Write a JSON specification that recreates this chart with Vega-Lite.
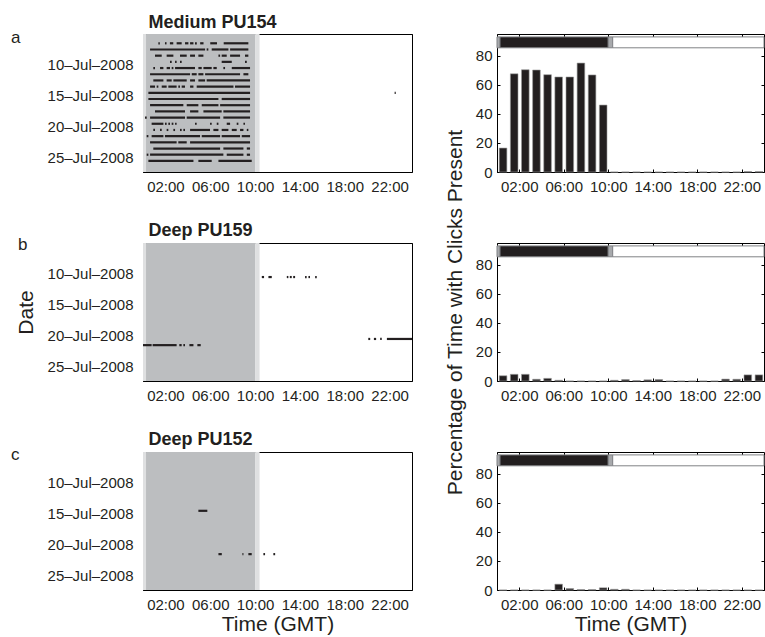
{
  "$schema": "https://vega.github.io/schema/vega-lite/v6.json",
  "background": "white",
  "padding": {"left": 10, "top": 12, "right": 0, "bottom": 0},
  "config": {
    "font": "Liberation Sans",
    "view": {"stroke": "black", "strokeWidth": 1},
    "axis": {"labelFont": "Liberation Sans", "labelFontSize": 15, "labelColor": "#231f20", "titleFont": "Liberation Sans", "titleFontSize": 21, "titleFontWeight": "normal", "titleColor": "#231f20", "domainColor": "black", "tickColor": "black", "grid": false, "zindex": 1},
    "title": {"font": "Liberation Sans", "color": "#231f20"}
  },
  "datasets": {
    "light": [
      {"start": 0, "end": 0.27, "phase": "twilight"},
      {"start": 0.27, "end": 10, "phase": "night"},
      {"start": 10, "end": 10.4, "phase": "twilight"},
      {"start": 10.4, "end": 24, "phase": "day"}
    ],
    "clicksA": [
      {"date": "2008-07-06", "start": 1.37, "end": 1.5}, {"date": "2008-07-06", "start": 1.96, "end": 2.1}, {"date": "2008-07-06", "start": 2.4, "end": 2.7}, {"date": "2008-07-06", "start": 3.0, "end": 3.45}, {"date": "2008-07-06", "start": 3.75, "end": 4.05}, {"date": "2008-07-06", "start": 4.2, "end": 4.5}, {"date": "2008-07-06", "start": 4.64, "end": 4.8}, {"date": "2008-07-06", "start": 5.1, "end": 5.4}, {"date": "2008-07-06", "start": 6.0, "end": 6.6}, {"date": "2008-07-06", "start": 7.2, "end": 9.4},
      {"date": "2008-07-07", "start": 0.63, "end": 5.54}, {"date": "2008-07-07", "start": 5.68, "end": 5.83}, {"date": "2008-07-07", "start": 6.13, "end": 7.62}, {"date": "2008-07-07", "start": 7.77, "end": 9.4},
      {"date": "2008-07-08", "start": 1.07, "end": 1.67}, {"date": "2008-07-08", "start": 2.11, "end": 2.71}, {"date": "2008-07-08", "start": 3.3, "end": 3.9}, {"date": "2008-07-08", "start": 4.2, "end": 4.64}, {"date": "2008-07-08", "start": 4.94, "end": 5.39}, {"date": "2008-07-08", "start": 6.73, "end": 6.88}, {"date": "2008-07-08", "start": 7.02, "end": 7.47}, {"date": "2008-07-08", "start": 7.77, "end": 8.66}, {"date": "2008-07-08", "start": 9.1, "end": 9.4},
      {"date": "2008-07-09", "start": 2.41, "end": 2.56}, {"date": "2008-07-09", "start": 2.86, "end": 3.0}, {"date": "2008-07-09", "start": 3.3, "end": 3.45}, {"date": "2008-07-09", "start": 7.02, "end": 7.92}, {"date": "2008-07-09", "start": 9.1, "end": 9.26},
      {"date": "2008-07-10", "start": 0.92, "end": 1.07}, {"date": "2008-07-10", "start": 1.52, "end": 1.82}, {"date": "2008-07-10", "start": 2.11, "end": 2.41}, {"date": "2008-07-10", "start": 2.56, "end": 2.71}, {"date": "2008-07-10", "start": 2.86, "end": 4.64}, {"date": "2008-07-10", "start": 4.94, "end": 5.24}, {"date": "2008-07-10", "start": 5.39, "end": 6.13}, {"date": "2008-07-10", "start": 6.28, "end": 6.58}, {"date": "2008-07-10", "start": 7.17, "end": 7.32}, {"date": "2008-07-10", "start": 7.92, "end": 9.55},
      {"date": "2008-07-11", "start": 0.63, "end": 4.2}, {"date": "2008-07-11", "start": 4.35, "end": 4.79}, {"date": "2008-07-11", "start": 4.94, "end": 5.39}, {"date": "2008-07-11", "start": 5.54, "end": 8.66}, {"date": "2008-07-11", "start": 8.96, "end": 9.4},
      {"date": "2008-07-12", "start": 0.92, "end": 1.82}, {"date": "2008-07-12", "start": 2.11, "end": 2.56}, {"date": "2008-07-12", "start": 2.71, "end": 3.9}, {"date": "2008-07-12", "start": 4.2, "end": 4.64}, {"date": "2008-07-12", "start": 4.94, "end": 5.54}, {"date": "2008-07-12", "start": 5.68, "end": 9.55},
      {"date": "2008-07-13", "start": 0.63, "end": 1.07}, {"date": "2008-07-13", "start": 1.22, "end": 1.37}, {"date": "2008-07-13", "start": 1.67, "end": 2.11}, {"date": "2008-07-13", "start": 2.26, "end": 3.0}, {"date": "2008-07-13", "start": 3.15, "end": 3.3}, {"date": "2008-07-13", "start": 3.45, "end": 3.75}, {"date": "2008-07-13", "start": 4.2, "end": 4.5}, {"date": "2008-07-13", "start": 4.79, "end": 8.07}, {"date": "2008-07-13", "start": 8.21, "end": 9.55},
      {"date": "2008-07-14", "start": 0.48, "end": 9.55}, {"date": "2008-07-14", "start": 22.45, "end": 22.55},
      {"date": "2008-07-15", "start": 0.48, "end": 6.73}, {"date": "2008-07-15", "start": 7.02, "end": 9.55},
      {"date": "2008-07-16", "start": 0.63, "end": 3.6}, {"date": "2008-07-16", "start": 3.9, "end": 4.94}, {"date": "2008-07-16", "start": 5.24, "end": 6.73}, {"date": "2008-07-16", "start": 6.88, "end": 9.55},
      {"date": "2008-07-17", "start": 1.07, "end": 3.75}, {"date": "2008-07-17", "start": 4.2, "end": 4.94}, {"date": "2008-07-17", "start": 5.39, "end": 7.02}, {"date": "2008-07-17", "start": 7.17, "end": 9.55},
      {"date": "2008-07-18", "start": 0.18, "end": 0.33}, {"date": "2008-07-18", "start": 0.63, "end": 3.75}, {"date": "2008-07-18", "start": 3.9, "end": 6.88}, {"date": "2008-07-18", "start": 7.17, "end": 9.55},
      {"date": "2008-07-19", "start": 0.77, "end": 1.82}, {"date": "2008-07-19", "start": 1.96, "end": 2.11}, {"date": "2008-07-19", "start": 2.26, "end": 2.41}, {"date": "2008-07-19", "start": 2.56, "end": 2.71}, {"date": "2008-07-19", "start": 2.86, "end": 3.0}, {"date": "2008-07-19", "start": 4.64, "end": 4.79}, {"date": "2008-07-19", "start": 5.98, "end": 6.13}, {"date": "2008-07-19", "start": 6.58, "end": 6.73}, {"date": "2008-07-19", "start": 7.47, "end": 7.77}, {"date": "2008-07-19", "start": 8.36, "end": 8.51}, {"date": "2008-07-19", "start": 8.96, "end": 9.1},
      {"date": "2008-07-20", "start": 0.92, "end": 1.07}, {"date": "2008-07-20", "start": 1.52, "end": 1.67}, {"date": "2008-07-20", "start": 2.11, "end": 2.26}, {"date": "2008-07-20", "start": 2.71, "end": 2.86}, {"date": "2008-07-20", "start": 3.3, "end": 3.45}, {"date": "2008-07-20", "start": 3.6, "end": 3.75}, {"date": "2008-07-20", "start": 4.2, "end": 5.98}, {"date": "2008-07-20", "start": 6.28, "end": 6.73}, {"date": "2008-07-20", "start": 7.02, "end": 7.62}, {"date": "2008-07-20", "start": 7.92, "end": 8.36}, {"date": "2008-07-20", "start": 8.66, "end": 8.96}, {"date": "2008-07-20", "start": 9.26, "end": 9.4},
      {"date": "2008-07-21", "start": 0.33, "end": 0.48}, {"date": "2008-07-21", "start": 0.77, "end": 1.82}, {"date": "2008-07-21", "start": 1.96, "end": 5.09}, {"date": "2008-07-21", "start": 5.24, "end": 6.88}, {"date": "2008-07-21", "start": 7.02, "end": 8.66}, {"date": "2008-07-21", "start": 8.81, "end": 9.55},
      {"date": "2008-07-22", "start": 0.63, "end": 3.0}, {"date": "2008-07-22", "start": 3.15, "end": 3.9}, {"date": "2008-07-22", "start": 4.2, "end": 9.55},
      {"date": "2008-07-23", "start": 0.92, "end": 6.88}, {"date": "2008-07-23", "start": 7.17, "end": 8.96}, {"date": "2008-07-23", "start": 9.26, "end": 9.55},
      {"date": "2008-07-24", "start": 0.33, "end": 0.48}, {"date": "2008-07-24", "start": 0.63, "end": 7.17}, {"date": "2008-07-24", "start": 7.47, "end": 8.96}, {"date": "2008-07-24", "start": 9.26, "end": 9.55},
      {"date": "2008-07-25", "start": 0.48, "end": 4.5}, {"date": "2008-07-25", "start": 4.94, "end": 6.13}, {"date": "2008-07-25", "start": 6.73, "end": 9.7}
    ],
    "clicksB": [
      {"date": "2008-07-10", "start": 10.6, "end": 10.8}, {"date": "2008-07-10", "start": 11.19, "end": 11.49}, {"date": "2008-07-10", "start": 12.83, "end": 12.97}, {"date": "2008-07-10", "start": 13.1, "end": 13.27}, {"date": "2008-07-10", "start": 13.4, "end": 13.57}, {"date": "2008-07-10", "start": 14.46, "end": 14.6}, {"date": "2008-07-10", "start": 14.76, "end": 14.9}, {"date": "2008-07-10", "start": 15.36, "end": 15.5},
      {"date": "2008-07-20", "start": 20.1, "end": 20.27}, {"date": "2008-07-20", "start": 20.6, "end": 20.8}, {"date": "2008-07-20", "start": 21.16, "end": 21.3}, {"date": "2008-07-20", "start": 21.76, "end": 24},
      {"date": "2008-07-21", "start": 0, "end": 0.77}, {"date": "2008-07-21", "start": 0.86, "end": 3.0}, {"date": "2008-07-21", "start": 3.24, "end": 3.45}, {"date": "2008-07-21", "start": 3.6, "end": 3.75}, {"date": "2008-07-21", "start": 4.14, "end": 4.5}, {"date": "2008-07-21", "start": 4.85, "end": 5.15}
    ],
    "clicksC": [
      {"date": "2008-07-14", "start": 4.94, "end": 5.74},
      {"date": "2008-07-21", "start": 6.73, "end": 7.03}, {"date": "2008-07-21", "start": 8.87, "end": 8.96}, {"date": "2008-07-21", "start": 9.4, "end": 9.7}, {"date": "2008-07-21", "start": 10.74, "end": 10.89}, {"date": "2008-07-21", "start": 11.63, "end": 11.79}
    ],
    "hourlyA": [
      {"hour": 0, "hourEnd": 1, "pct": 16.5}, {"hour": 1, "hourEnd": 2, "pct": 67.6}, {"hour": 2, "hourEnd": 3, "pct": 70.4}, {"hour": 3, "hourEnd": 4, "pct": 70.2}, {"hour": 4, "hourEnd": 5, "pct": 67.0}, {"hour": 5, "hourEnd": 6, "pct": 65.4}, {"hour": 6, "hourEnd": 7, "pct": 65.4}, {"hour": 7, "hourEnd": 8, "pct": 75.0}, {"hour": 8, "hourEnd": 9, "pct": 66.8}, {"hour": 9, "hourEnd": 10, "pct": 46.1},
      {"hour": 10, "hourEnd": 11, "pct": 0}, {"hour": 11, "hourEnd": 12, "pct": 0}, {"hour": 12, "hourEnd": 13, "pct": 0}, {"hour": 13, "hourEnd": 14, "pct": 0}, {"hour": 14, "hourEnd": 15, "pct": 0}, {"hour": 15, "hourEnd": 16, "pct": 0}, {"hour": 16, "hourEnd": 17, "pct": 0}, {"hour": 17, "hourEnd": 18, "pct": 0}, {"hour": 18, "hourEnd": 19, "pct": 0}, {"hour": 19, "hourEnd": 20, "pct": 0}, {"hour": 20, "hourEnd": 21, "pct": 0}, {"hour": 21, "hourEnd": 22, "pct": 0}, {"hour": 22, "hourEnd": 23, "pct": 0.3}, {"hour": 23, "hourEnd": 24, "pct": 0.3}
    ],
    "hourlyB": [
      {"hour": 0, "hourEnd": 1, "pct": 3.6}, {"hour": 1, "hourEnd": 2, "pct": 4.6}, {"hour": 2, "hourEnd": 3, "pct": 4.6}, {"hour": 3, "hourEnd": 4, "pct": 1.2}, {"hour": 4, "hourEnd": 5, "pct": 1.8}, {"hour": 5, "hourEnd": 6, "pct": 0.5}, {"hour": 6, "hourEnd": 7, "pct": 0}, {"hour": 7, "hourEnd": 8, "pct": 0}, {"hour": 8, "hourEnd": 9, "pct": 0}, {"hour": 9, "hourEnd": 10, "pct": 0},
      {"hour": 10, "hourEnd": 11, "pct": 0.5}, {"hour": 11, "hourEnd": 12, "pct": 1.0}, {"hour": 12, "hourEnd": 13, "pct": 0.3}, {"hour": 13, "hourEnd": 14, "pct": 0.8}, {"hour": 14, "hourEnd": 15, "pct": 1.0}, {"hour": 15, "hourEnd": 16, "pct": 0}, {"hour": 16, "hourEnd": 17, "pct": 0}, {"hour": 17, "hourEnd": 18, "pct": 0}, {"hour": 18, "hourEnd": 19, "pct": 0}, {"hour": 19, "hourEnd": 20, "pct": 0}, {"hour": 20, "hourEnd": 21, "pct": 1.3}, {"hour": 21, "hourEnd": 22, "pct": 1.2}, {"hour": 22, "hourEnd": 23, "pct": 4.2}, {"hour": 23, "hourEnd": 24, "pct": 4.2}
    ],
    "hourlyC": [
      {"hour": 0, "hourEnd": 1, "pct": 0}, {"hour": 1, "hourEnd": 2, "pct": 0}, {"hour": 2, "hourEnd": 3, "pct": 0}, {"hour": 3, "hourEnd": 4, "pct": 0}, {"hour": 4, "hourEnd": 5, "pct": 0}, {"hour": 5, "hourEnd": 6, "pct": 4.0}, {"hour": 6, "hourEnd": 7, "pct": 1.0}, {"hour": 7, "hourEnd": 8, "pct": 0.3}, {"hour": 8, "hourEnd": 9, "pct": 0.3}, {"hour": 9, "hourEnd": 10, "pct": 1.5},
      {"hour": 10, "hourEnd": 11, "pct": 0.5}, {"hour": 11, "hourEnd": 12, "pct": 0.5}, {"hour": 12, "hourEnd": 13, "pct": 0}, {"hour": 13, "hourEnd": 14, "pct": 0}, {"hour": 14, "hourEnd": 15, "pct": 0}, {"hour": 15, "hourEnd": 16, "pct": 0}, {"hour": 16, "hourEnd": 17, "pct": 0}, {"hour": 17, "hourEnd": 18, "pct": 0}, {"hour": 18, "hourEnd": 19, "pct": 0}, {"hour": 19, "hourEnd": 20, "pct": 0}, {"hour": 20, "hourEnd": 21, "pct": 0}, {"hour": 21, "hourEnd": 22, "pct": 0}, {"hour": 22, "hourEnd": 23, "pct": 0}, {"hour": 23, "hourEnd": 24, "pct": 0}
    ]
  },
  "columns": 2,
  "spacing": {"row": 71, "column": 85},
  "bounds": "flush",
  "resolve": {"scale": {"color": "independent"}},
  "concat": [
    {
      "width": 269, "height": 138,
      "title": {"text": "a", "anchor": "start", "frame": "group", "fontSize": 17, "fontWeight": "normal", "offset": 0, "dx": -132, "dy": 34},
      "layer": [
        {"data": {"name": "light"}, "mark": {"type": "rect"},
         "encoding": {
           "x": {"field": "start", "type": "quantitative", "scale": {"domain": [0, 24], "nice": false}, "axis": {"orient": "top", "labels": false, "ticks": false, "title": "Medium PU154", "titleFontSize": 18, "titleFontWeight": "bold", "titleAnchor": "start", "titleAlign": "left", "titleBaseline": "alphabetic", "titleX": 5, "titleY": -7}},
           "x2": {"field": "end"},
           "color": {"field": "phase", "type": "nominal", "scale": {"domain": ["night", "twilight", "day"], "range": ["#bcbec0", "#dfe0e1", "transparent"]}, "legend": null}}},
        {"data": {"name": "clicksA"}, "mark": {"type": "rule", "strokeWidth": 2.2, "color": "#231f20"},
         "encoding": {
           "x": {"field": "start", "type": "quantitative", "scale": {"domain": [0, 24], "nice": false}, "axis": {"values": [2, 6, 10, 14, 18, 22], "labelExpr": "(datum.value < 10 ? '0' : '') + datum.value + ':00'", "ticks": false, "labelPadding": 7, "title": null}},
           "x2": {"field": "end"},
           "y": {"field": "date", "type": "temporal", "timeUnit": "utcyearmonthdate", "bandPosition": 0.5,
                 "scale": {"type": "utc", "domain": [{"year": 2008, "month": 7, "date": 5, "utc": true}, {"year": 2008, "month": 7, "date": 27, "hours": 7, "utc": true}], "reverse": true},
                 "axis": {"values": [{"year": 2008, "month": 7, "date": 10, "utc": true}, {"year": 2008, "month": 7, "date": 15, "utc": true}, {"year": 2008, "month": 7, "date": 20, "utc": true}, {"year": 2008, "month": 7, "date": 25, "utc": true}], "format": "%d–%b–%Y", "ticks": false, "labelPadding": 10, "title": null}}}}
      ],
      "resolve": {"axis": {"x": "independent"}}
    },
    {
      "width": 267, "height": 138,
      "layer": [
        {"data": {"name": "light"}, "mark": {"type": "rect", "stroke": "#808285", "strokeWidth": 1},
         "encoding": {
           "x": {"field": "start", "type": "quantitative", "scale": {"domain": [0, 24], "nice": false}, "axis": {"orient": "top", "values": [2, 6, 10, 14, 18, 22], "labels": false, "tickSize": -3, "domain": false, "title": null}},
           "x2": {"field": "end"},
           "y": {"datum": 85.5, "type": "quantitative", "scale": {"domain": [0, 95], "nice": false}, "axis": {"orient": "right", "values": [0, 20, 40, 60, 80], "labels": false, "tickSize": -3, "domain": false, "title": null}},
           "y2": {"datum": 93},
           "color": {"field": "phase", "type": "nominal", "scale": {"domain": ["night", "twilight", "day"], "range": ["#231f20", "#a7a9ac", "#ffffff"]}, "legend": null}}},
        {"data": {"name": "hourlyA"}, "mark": {"type": "bar", "color": "#231f20", "stroke": "#9a9a9a", "strokeWidth": 0.6, "binSpacing": 3.5},
         "encoding": {
           "x": {"field": "hour", "type": "quantitative", "bin": {"binned": true, "step": 1}, "scale": {"domain": [0, 24], "nice": false}, "axis": {"values": [2, 6, 10, 14, 18, 22], "labelExpr": "(datum.value < 10 ? '0' : '') + datum.value + ':00'", "tickSize": -3, "labelPadding": 10, "title": null}},
           "x2": {"field": "hourEnd"},
           "y": {"field": "pct", "type": "quantitative", "scale": {"domain": [0, 95], "nice": false}, "axis": {"values": [0, 20, 40, 60, 80], "tickSize": -3, "labelPadding": 8, "title": null}}}}
      ],
      "resolve": {"axis": {"x": "independent", "y": "independent"}}
    },
    {
      "width": 269, "height": 138,
      "title": {"text": "b", "anchor": "start", "frame": "group", "fontSize": 17, "fontWeight": "normal", "offset": 0, "dx": -125, "dy": 33},
      "layer": [
        {"data": {"name": "light"}, "mark": {"type": "rect"},
         "encoding": {
           "x": {"field": "start", "type": "quantitative", "scale": {"domain": [0, 24], "nice": false}, "axis": {"orient": "top", "labels": false, "ticks": false, "title": "Deep PU159", "titleFontSize": 18, "titleFontWeight": "bold", "titleAnchor": "start", "titleAlign": "left", "titleBaseline": "alphabetic", "titleX": 5, "titleY": -8}},
           "x2": {"field": "end"},
           "color": {"field": "phase", "type": "nominal", "scale": {"domain": ["night", "twilight", "day"], "range": ["#bcbec0", "#dfe0e1", "transparent"]}, "legend": null}}},
        {"data": {"name": "clicksB"}, "mark": {"type": "rule", "strokeWidth": 2.2, "color": "#231f20"},
         "encoding": {
           "x": {"field": "start", "type": "quantitative", "scale": {"domain": [0, 24], "nice": false}, "axis": {"values": [2, 6, 10, 14, 18, 22], "labelExpr": "(datum.value < 10 ? '0' : '') + datum.value + ':00'", "ticks": false, "labelPadding": 7, "title": null}},
           "x2": {"field": "end"},
           "y": {"field": "date", "type": "temporal", "timeUnit": "utcyearmonthdate", "bandPosition": 0.5,
                 "scale": {"type": "utc", "domain": [{"year": 2008, "month": 7, "date": 5, "utc": true}, {"year": 2008, "month": 7, "date": 27, "hours": 7, "utc": true}], "reverse": true},
                 "axis": {"values": [{"year": 2008, "month": 7, "date": 10, "utc": true}, {"year": 2008, "month": 7, "date": 15, "utc": true}, {"year": 2008, "month": 7, "date": 20, "utc": true}, {"year": 2008, "month": 7, "date": 25, "utc": true}], "format": "%d–%b–%Y", "ticks": false, "labelPadding": 10, "title": "Date", "titlePadding": 11}}}}
      ],
      "resolve": {"axis": {"x": "independent"}}
    },
    {
      "width": 267, "height": 138,
      "layer": [
        {"data": {"name": "light"}, "mark": {"type": "rect", "stroke": "#808285", "strokeWidth": 1},
         "encoding": {
           "x": {"field": "start", "type": "quantitative", "scale": {"domain": [0, 24], "nice": false}, "axis": {"orient": "top", "values": [2, 6, 10, 14, 18, 22], "labels": false, "tickSize": -3, "domain": false, "title": null}},
           "x2": {"field": "end"},
           "y": {"datum": 85.5, "type": "quantitative", "scale": {"domain": [0, 95], "nice": false}, "axis": {"orient": "right", "values": [0, 20, 40, 60, 80], "labels": false, "tickSize": -3, "domain": false, "title": null}},
           "y2": {"datum": 93},
           "color": {"field": "phase", "type": "nominal", "scale": {"domain": ["night", "twilight", "day"], "range": ["#231f20", "#a7a9ac", "#ffffff"]}, "legend": null}}},
        {"data": {"name": "hourlyB"}, "mark": {"type": "bar", "color": "#231f20", "stroke": "#9a9a9a", "strokeWidth": 0.6, "binSpacing": 3.5},
         "encoding": {
           "x": {"field": "hour", "type": "quantitative", "bin": {"binned": true, "step": 1}, "scale": {"domain": [0, 24], "nice": false}, "axis": {"values": [2, 6, 10, 14, 18, 22], "labelExpr": "(datum.value < 10 ? '0' : '') + datum.value + ':00'", "tickSize": -3, "labelPadding": 10, "title": null}},
           "x2": {"field": "hourEnd"},
           "y": {"field": "pct", "type": "quantitative", "scale": {"domain": [0, 95], "nice": false}, "axis": {"values": [0, 20, 40, 60, 80], "tickSize": -3, "labelPadding": 8, "title": "Percentage of Time with Clicks Present", "titlePadding": 10}}}}
      ],
      "resolve": {"axis": {"x": "independent", "y": "independent"}}
    },
    {
      "width": 269, "height": 138,
      "title": {"text": "c", "anchor": "start", "frame": "group", "fontSize": 17, "fontWeight": "normal", "offset": 0, "dx": -132, "dy": 34},
      "layer": [
        {"data": {"name": "light"}, "mark": {"type": "rect"},
         "encoding": {
           "x": {"field": "start", "type": "quantitative", "scale": {"domain": [0, 24], "nice": false}, "axis": {"orient": "top", "labels": false, "ticks": false, "title": "Deep PU152", "titleFontSize": 18, "titleFontWeight": "bold", "titleAnchor": "start", "titleAlign": "left", "titleBaseline": "alphabetic", "titleX": 5, "titleY": -8}},
           "x2": {"field": "end"},
           "color": {"field": "phase", "type": "nominal", "scale": {"domain": ["night", "twilight", "day"], "range": ["#bcbec0", "#dfe0e1", "transparent"]}, "legend": null}}},
        {"data": {"name": "clicksC"}, "mark": {"type": "rule", "strokeWidth": 2.2, "color": "#231f20"},
         "encoding": {
           "x": {"field": "start", "type": "quantitative", "scale": {"domain": [0, 24], "nice": false}, "axis": {"values": [2, 6, 10, 14, 18, 22], "labelExpr": "(datum.value < 10 ? '0' : '') + datum.value + ':00'", "ticks": false, "labelPadding": 7, "title": "Time (GMT)", "titlePadding": 1}},
           "x2": {"field": "end"},
           "y": {"field": "date", "type": "temporal", "timeUnit": "utcyearmonthdate", "bandPosition": 0.5,
                 "scale": {"type": "utc", "domain": [{"year": 2008, "month": 7, "date": 5, "utc": true}, {"year": 2008, "month": 7, "date": 27, "hours": 7, "utc": true}], "reverse": true},
                 "axis": {"values": [{"year": 2008, "month": 7, "date": 10, "utc": true}, {"year": 2008, "month": 7, "date": 15, "utc": true}, {"year": 2008, "month": 7, "date": 20, "utc": true}, {"year": 2008, "month": 7, "date": 25, "utc": true}], "format": "%d–%b–%Y", "ticks": false, "labelPadding": 10, "title": null}}}}
      ],
      "resolve": {"axis": {"x": "independent"}}
    },
    {
      "width": 267, "height": 138,
      "layer": [
        {"data": {"name": "light"}, "mark": {"type": "rect", "stroke": "#808285", "strokeWidth": 1},
         "encoding": {
           "x": {"field": "start", "type": "quantitative", "scale": {"domain": [0, 24], "nice": false}, "axis": {"orient": "top", "values": [2, 6, 10, 14, 18, 22], "labels": false, "tickSize": -3, "domain": false, "title": null}},
           "x2": {"field": "end"},
           "y": {"datum": 85.5, "type": "quantitative", "scale": {"domain": [0, 95], "nice": false}, "axis": {"orient": "right", "values": [0, 20, 40, 60, 80], "labels": false, "tickSize": -3, "domain": false, "title": null}},
           "y2": {"datum": 93},
           "color": {"field": "phase", "type": "nominal", "scale": {"domain": ["night", "twilight", "day"], "range": ["#231f20", "#a7a9ac", "#ffffff"]}, "legend": null}}},
        {"data": {"name": "hourlyC"}, "mark": {"type": "bar", "color": "#231f20", "stroke": "#9a9a9a", "strokeWidth": 0.6, "binSpacing": 3.5},
         "encoding": {
           "x": {"field": "hour", "type": "quantitative", "bin": {"binned": true, "step": 1}, "scale": {"domain": [0, 24], "nice": false}, "axis": {"values": [2, 6, 10, 14, 18, 22], "labelExpr": "(datum.value < 10 ? '0' : '') + datum.value + ':00'", "tickSize": -3, "labelPadding": 10, "title": "Time (GMT)", "titlePadding": 1}},
           "x2": {"field": "hourEnd"},
           "y": {"field": "pct", "type": "quantitative", "scale": {"domain": [0, 95], "nice": false}, "axis": {"values": [0, 20, 40, 60, 80], "tickSize": -3, "labelPadding": 8, "title": null}}}}
      ],
      "resolve": {"axis": {"x": "independent", "y": "independent"}}
    }
  ]
}
